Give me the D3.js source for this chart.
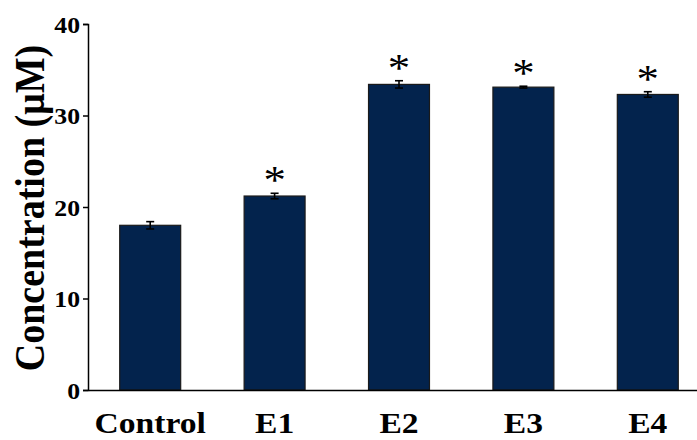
<!DOCTYPE html>
<html>
<head>
<meta charset="utf-8">
<script src="https://cdn.jsdelivr.net/npm/d3@7"></script>
<style>
  html, body { margin: 0; padding: 0; background: #fff; }
  svg { display: block; }
  text { font-family: "Liberation Serif", "Times New Roman", serif; fill: #000; }
</style>
</head>
<body>
<svg id="chart" width="697" height="440"></svg>
<script>
// Group names, mean concentrations (µM) and error half-widths
const groups = ["Control", "E1", "E2", "E3", "E4"];
const means = [18.0, 21.2, 33.4, 33.1, 32.3];
const errors = [0.4, 0.3, 0.4, 0.1, 0.3];
const significant = [false, true, true, true, true];
const yTicks = [0, 10, 20, 30, 40];

const data = groups.map((g, i) => ({ group: g, mean: means[i], err: errors[i], sig: significant[i] }));

const svg = d3.select("#chart");
const sx = 1.12; // horizontal stretch of the lettering

const x = d3.scaleBand()
  .domain(groups)
  .range([88, 710])
  .paddingInner(0.51)
  .paddingOuter(0.255);

const y = d3.scaleLinear()
  .domain([0, 40])
  .range([390, 24]);

// Bars
svg.append("g")
  .selectAll("rect")
  .data(data)
  .join("rect")
  .attr("x", d => x(d.group))
  .attr("y", d => y(d.mean))
  .attr("width", x.bandwidth())
  .attr("height", d => y(0) - y(d.mean))
  .attr("fill", "#03234d")
  .attr("stroke", "#1a1a1a")
  .attr("stroke-width", 1.2);

// Error bars
const eb = svg.append("g").attr("stroke", "#000").attr("stroke-width", 1.6);
data.forEach(d => {
  const cx = x(d.group) + x.bandwidth() / 2;
  const top = y(d.mean + d.err), bot = y(d.mean - d.err);
  eb.append("line").attr("x1", cx).attr("x2", cx).attr("y1", top).attr("y2", bot);
  eb.append("line").attr("x1", cx - 4).attr("x2", cx + 4).attr("y1", top).attr("y2", top);
  eb.append("line").attr("x1", cx - 4).attr("x2", cx + 4).attr("y1", bot).attr("y2", bot);
});

// Significance markers
svg.append("g")
  .selectAll("text")
  .data(data.filter(d => d.sig))
  .join("text")
  .attr("transform", d => `translate(${x(d.group) + x.bandwidth() / 2},${y(d.mean + d.err)}) scale(${sx},1)`)
  .attr("text-anchor", "middle")
  .style("font-size", "40px")
  .text("*");

// Y axis
const yAxis = svg.append("g")
  .attr("transform", "translate(88,0)")
  .call(d3.axisLeft(y).tickValues(yTicks).tickSize(5).tickFormat(d3.format("d")));
yAxis.select(".domain").attr("stroke", "#000").attr("stroke-width", 1.5);
yAxis.selectAll(".tick line").attr("stroke", "#000").attr("stroke-width", 1.5);
yAxis.selectAll(".tick text")
  .attr("x", null).attr("dy", null)
  .attr("transform", `translate(-8,8) scale(${sx},1)`)
  .style("font-size", "23px")
  .style("font-weight", "bold");

// X axis
const xAxis = svg.append("g")
  .attr("transform", "translate(0,390)")
  .call(d3.axisBottom(x).tickSize(0).tickPadding(0));
xAxis.select(".domain").attr("stroke", "#000").attr("stroke-width", 1.5);
xAxis.selectAll(".tick text")
  .attr("y", null).attr("dy", null)
  .attr("transform", `translate(0,43) scale(${sx},1)`)
  .style("font-size", "30px")
  .style("font-weight", "bold");

// Y axis title
svg.append("text")
  .attr("transform", `translate(44,208) scale(${sx},1) rotate(-90)`)
  .attr("text-anchor", "middle")
  .style("font-size", "38px")
  .style("font-weight", "bold")
  .text("Concentration (μM)");
</script>
</body>
</html>
